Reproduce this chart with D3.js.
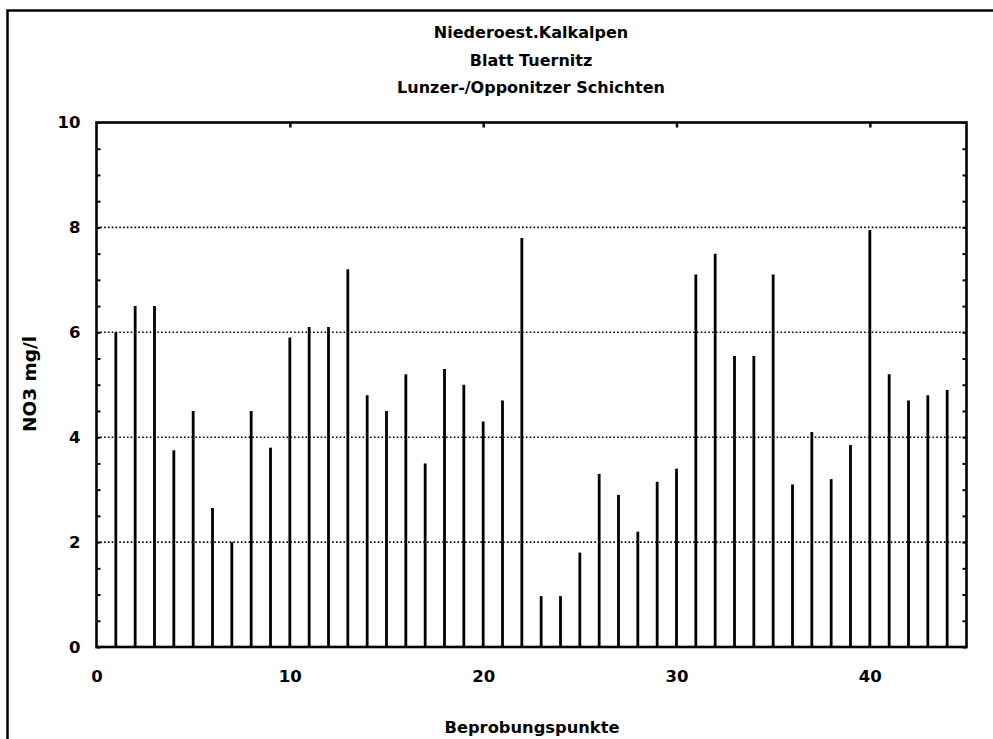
<!DOCTYPE html>
<html>
<head>
<meta charset="utf-8">
<script src="https://cdn.jsdelivr.net/npm/d3@7/dist/d3.min.js"></script>
<style>
  html, body { margin: 0; padding: 0; background: #fff; }
  svg { display: block; }
  text { font-family: "DejaVu Sans", sans-serif; font-weight: bold; fill: #000; }
</style>
</head>
<body>
<svg id="chart" width="993" height="739"></svg>
<script>
const titleLines = ["Niederoest.Kalkalpen", "Blatt Tuernitz", "Lunzer-/Opponitzer Schichten"];
const xLabel = "Beprobungspunkte";
const yLabel = "NO3 mg/l";
const points = [1,2,3,4,5,6,7,8,9,10,11,12,13,14,15,16,17,18,19,20,21,22,23,24,25,26,27,28,29,30,31,32,33,34,35,36,37,38,39,40,41,42,43,44];
const no3 = [6.0,6.5,6.5,3.75,4.5,2.65,2.0,4.5,3.8,5.9,6.1,6.1,7.2,4.8,4.5,5.2,3.5,5.3,5.0,4.3,4.7,7.8,0.97,0.97,1.8,3.3,2.9,2.2,3.15,3.4,7.1,7.5,5.55,5.55,7.1,3.1,4.1,3.2,3.85,7.95,5.2,4.7,4.8,4.9];
const xTicks = [0,10,20,30,40];
const yTicks = [0,2,4,6,8,10];
const yMinor = d3.range(0, 10.01, 0.5);

const svg = d3.select("#chart");
const L = 96.5, R = 966.5, T = 122.5, B = 647;
const x = d3.scaleLinear().domain([0,45]).range([L,R]);
const y = d3.scaleLinear().domain([0,10]).range([B,T]);

// outer frame (top and left only)
svg.append("path").attr("d", `M7.5,739 L7.5,10.5 L993,10.5`).attr("fill","none").attr("stroke","#000").attr("stroke-width",2.5);

// title
svg.selectAll(".title").data(titleLines).join("text")
  .attr("x", 531).attr("y", (d,i)=>38 + i*27.5)
  .attr("text-anchor","middle").attr("font-size", 16).text(d=>d);

// grid
svg.selectAll(".grid").data(yTicks.filter(d=>d>0 && d<10)).join("line")
  .attr("x1", L).attr("x2", R).attr("y1", d=>y(d)).attr("y2", d=>y(d))
  .attr("stroke","#000").attr("stroke-width",1.6).attr("stroke-dasharray","1.6,2.2");

// bars
svg.selectAll(".bar").data(points).join("line")
  .attr("x1", (d)=>x(d)).attr("x2",(d)=>x(d))
  .attr("y1", y(0)).attr("y2", (d,i)=>y(no3[i]))
  .attr("stroke","#000").attr("stroke-width",2.8);

// plot box
svg.append("rect").attr("x",L).attr("y",T).attr("width",R-L).attr("height",B-T)
  .attr("fill","none").attr("stroke","#000").attr("stroke-width",2.6);

// axes
const yAxisL = d3.axisLeft(y).tickValues(yTicks).tickSize(0).tickPadding(16);
const gy = svg.append("g").attr("transform",`translate(${L},0)`).call(yAxisL);
gy.select(".domain").remove();
gy.selectAll("text").attr("font-size",16.5).attr("font-family","DejaVu Sans").attr("font-weight","bold");

const xAxisB = d3.axisBottom(x).tickValues(xTicks).tickSize(0).tickPadding(23);
const gx = svg.append("g").attr("transform",`translate(0,${B})`).call(xAxisB);
gx.select(".domain").remove();
gx.selectAll("text").attr("font-size",16.5).attr("font-family","DejaVu Sans").attr("font-weight","bold");

// minor ticks on left and right (inside)
const gL = svg.append("g").attr("transform",`translate(${L},0)`).call(d3.axisRight(y).tickValues(yMinor).tickSize(4).tickFormat(""));
gL.select(".domain").remove();
gL.selectAll("line").attr("stroke-width",2);
const gR = svg.append("g").attr("transform",`translate(${R},0)`).call(d3.axisLeft(y).tickValues(yMinor).tickSize(4).tickFormat(""));
gR.select(".domain").remove();
gR.selectAll("line").attr("stroke-width",2);
// top ticks
const gT = svg.append("g").attr("transform",`translate(0,${T})`).call(d3.axisBottom(x).tickValues(xTicks.filter(d=>d>0)).tickSize(5).tickFormat(""));
gT.select(".domain").remove();
gT.selectAll("line").attr("stroke-width",2.5);

// axis labels
svg.append("text").attr("x", 532).attr("y", 733).attr("text-anchor","middle").attr("font-size",16.3).text(xLabel);
svg.append("text").attr("transform","translate(36,384) rotate(-90)").attr("text-anchor","middle").attr("font-size",18.5).text(yLabel);
</script>
</body>
</html>
